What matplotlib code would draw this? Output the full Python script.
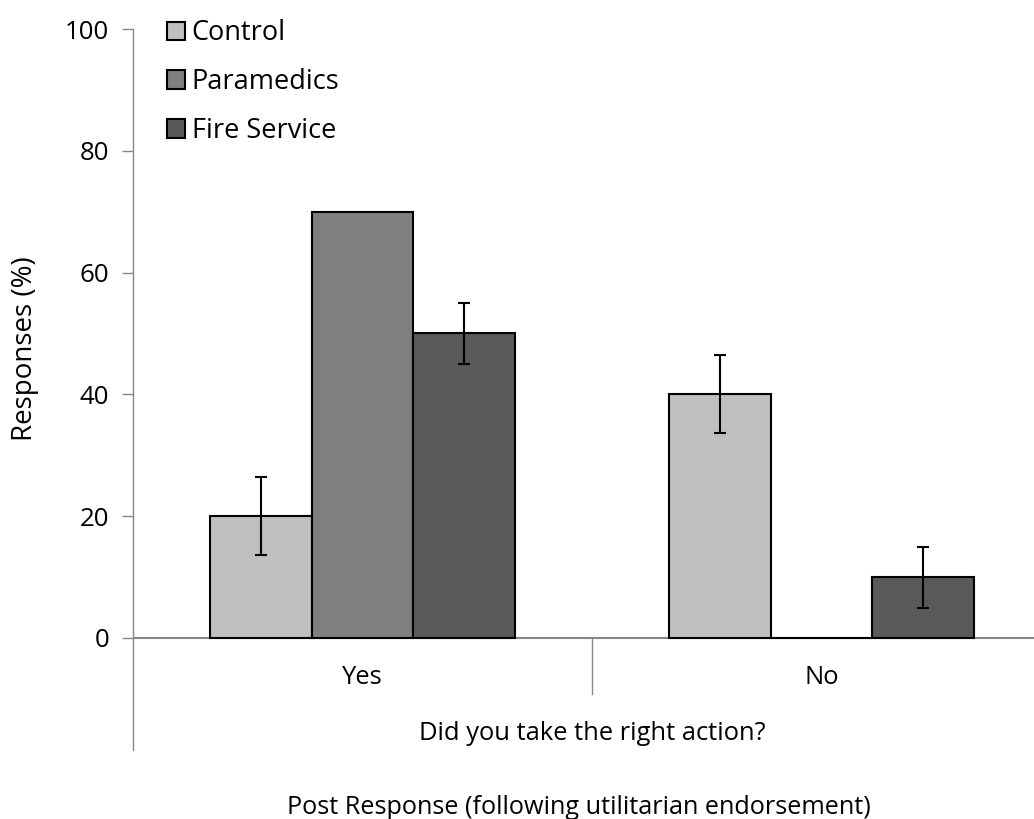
import numpy as np
import matplotlib.pyplot as plt

# data
categories = ['Yes', 'No']
groups = ['Control', 'Paramedics', 'Fire Service']
control = [20, 40]
paramedics = [70, 0]
fire = [50, 10]
control_err = [6.4, 6.4]
paramedics_err = [0, 0]
fire_err = [5, 5]

colors = ['#BFBFBF', '#7F7F7F', '#595959']
axis_grey = '#868686'
plt.rcParams['font.family'] = ['Open Sans', 'DejaVu Sans']

W, H = 1034, 819
fig = plt.figure(figsize=(W / 100, H / 100), dpi=100)
ax = fig.add_axes([133 / W, (H - 750) / H, (W - 133) / W, (750 - 29) / H])

x = np.arange(len(categories))
bw = 0.222
series = [control, paramedics, fire]
errs = [control_err, paramedics_err, fire_err]
for i, (vals, err) in enumerate(zip(series, errs)):
    pos = x + (i - 1) * bw
    ax.bar(pos, vals, bw, color=colors[i], edgecolor='black', linewidth=1.5,
           label=groups[i], zorder=2)
    e = np.array(err, dtype=float)
    mask = e > 0
    ax.errorbar(pos[mask], np.array(vals)[mask], yerr=e[mask], fmt='none',
                ecolor='black', elinewidth=1.5, capsize=4.4, capthick=1.5, zorder=3)

ax.set_xlim(-0.5, (W - 362.5) / 459)
ax.set_ylim(-18.4, 100)
ax.set_yticks([0, 20, 40, 60, 80, 100])
ax.tick_params(axis='y', length=8, width=1, color=axis_grey, labelsize=18.6, pad=9)
ax.set_xticks([])
for s in ['top', 'right', 'bottom']:
    ax.spines[s].set_visible(False)
ax.spines['left'].set_color(axis_grey)
ax.spines['left'].set_linewidth(1)
ax.axhline(0, color=axis_grey, linewidth=1.5, zorder=1)
ax.plot([0.5, 0.5], [0, -9.2], color=axis_grey, linewidth=1, clip_on=False)

# category labels and axis titles (positions in figure pixels)
def fy(py):
    return 1 - py / H

for xi, c in zip(x, categories):
    fig.text((362.5 + 459 * xi) / W, fy(684), c, ha='center', va='baseline', fontsize=18.4)
fig.text(592 / W, fy(740), 'Did you take the right action?', ha='center', va='baseline',
         fontsize=18.4)
fig.text(287 / W, fy(814), 'Post Response (following utilitarian endorsement)',
         ha='left', va='baseline', fontsize=18.2)
fig.text(25.5 / W, fy(349), 'Responses (%)', rotation=90, ha='center', va='center',
         fontsize=20)

leg = ax.legend(loc='upper left', bbox_to_anchor=(156 / W, 1 - 8.5 / H),
                bbox_transform=fig.transFigure, frameon=False, fontsize=19.5,
                handlelength=0.67, handleheight=0.67, handletextpad=0.25,
                labelspacing=0.77, borderaxespad=0)

fig.savefig('out.png', dpi=100)
